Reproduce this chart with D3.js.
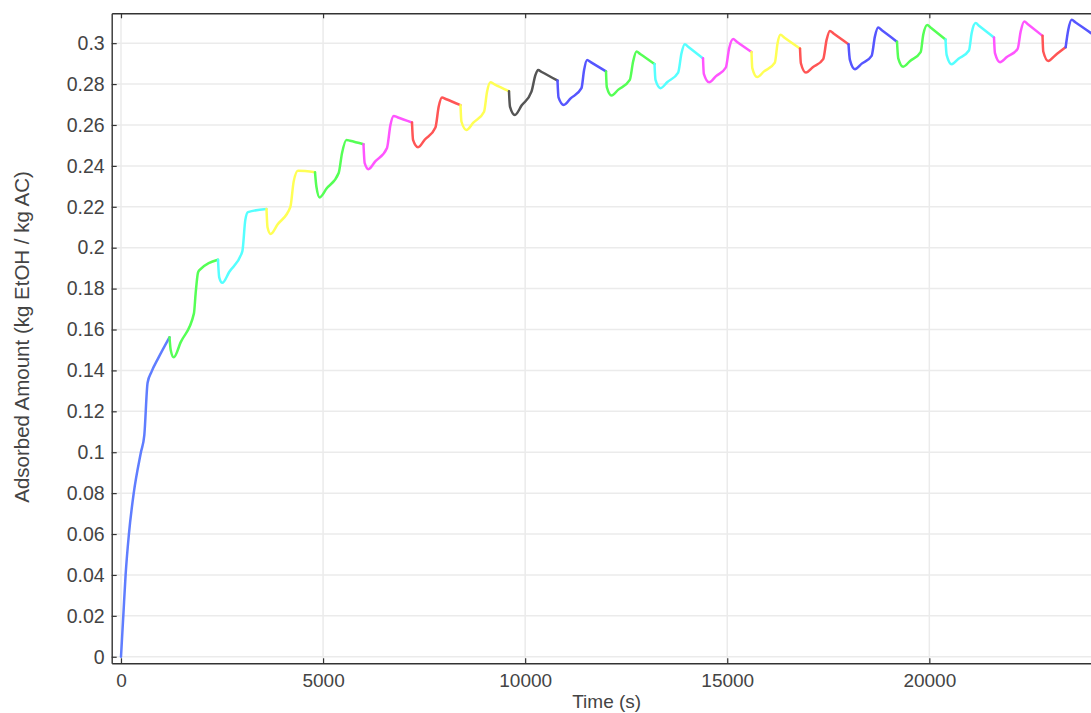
<!DOCTYPE html>
<html>
<head>
<meta charset="utf-8">
<script src="https://cdn.jsdelivr.net/npm/d3@7"></script>
<style>
  html, body { margin: 0; padding: 0; background: #ffffff; }
  svg { display: block; }
  text { font-family: "Liberation Sans", Arial, sans-serif; fill: #444444; }
</style>
</head>
<body>
<svg id="chart" width="1091" height="713"></svg>
<script>
// Adsorbed amount over repeated adsorption/desorption cycles, one coloured segment per cycle.
// Each segment: [time (s), adsorbed amount (kg EtOH / kg AC)]
const seg00 = [[0,0],[57,0.02],[114,0.04],[196,0.06],[315,0.08],[493,0.10],[577,0.1084],[658,0.1340],[757,0.1394],[922,0.1460],[1200,0.1562]];
const seg01 = [[1200,0.1562],[1230,0.1500],[1305,0.1464],[1475,0.1537],[1805,0.1679],[1847,0.1777],[1905,0.1878],[1940,0.1890],[2400,0.1941]];
const seg02 = [[2400,0.1941],[2430,0.1855],[2507,0.1828],[2677,0.1881],[3002,0.1982],[3076,0.2136],[3142,0.2174],[3600,0.2189]];
const seg03 = [[3600,0.2189],[3625,0.2100],[3703,0.2067],[3873,0.2113],[4190,0.2199],[4272,0.2323],[4379,0.2376],[4800,0.2369]];
const seg04 = [[4800,0.2369],[4834,0.2299],[4916,0.2246],[5086,0.2289],[5386,0.2365],[5468,0.2462],[5577,0.2527],[5667,0.2523],[6000,0.2506]];
const seg05 = [[6000,0.2506],[6030,0.2413],[6121,0.2384],[6291,0.2422],[6582,0.2488],[6666,0.2600],[6748,0.2644],[6838,0.2638],[7200,0.2612]];
const seg06 = [[7200,0.2612],[7226,0.2527],[7349,0.2491],[7519,0.2529],[7780,0.2588],[7861,0.2690],[7943,0.2734],[8033,0.2727],[8400,0.2697]];
const seg07 = [[8400,0.2697],[8423,0.2617],[8547,0.2576],[8717,0.2611],[8983,0.2665],[9057,0.2763],[9141,0.2809],[9231,0.2800],[9600,0.2765]];
const seg08 = [[9600,0.2765],[9624,0.2690],[9745,0.2649],[9915,0.2696],[10156,0.2763],[10255,0.2845],[10320,0.2869],[10410,0.2859],[10800,0.2817]];
const seg09 = [[10800,0.2817],[10825,0.2735],[10955,0.2698],[11125,0.2730],[11393,0.2780],[11458,0.2869],[11532,0.2918],[11622,0.2907],[12000,0.2862]];
const seg10 = [[12000,0.2862],[12020,0.2785],[12136,0.2744],[12306,0.2773],[12589,0.2820],[12671,0.2910],[12755,0.2959],[12845,0.2947],[13200,0.2898]];
const seg11 = [[13200,0.2898],[13225,0.2820],[13349,0.2780],[13519,0.2810],[13785,0.2856],[13868,0.2951],[13950,0.2995],[14040,0.2981],[14400,0.2926]];
const seg12 = [[14400,0.2926],[14421,0.2850],[14552,0.2809],[14722,0.2839],[14965,0.2881],[15047,0.2975],[15146,0.3020],[15236,0.3007],[15600,0.2957]];
const seg13 = [[15600,0.2957],[15620,0.2878],[15740,0.2834],[15910,0.2862],[16178,0.2905],[16245,0.3000],[16319,0.3041],[16409,0.3028],[16800,0.2974]];
const seg14 = [[16800,0.2974],[16822,0.2902],[16946,0.2856],[17116,0.2882],[17374,0.2922],[17458,0.3016],[17540,0.3060],[17630,0.3047],[18000,0.2995]];
const seg15 = [[18000,0.2995],[18035,0.2918],[18158,0.2873],[18328,0.2900],[18572,0.2938],[18653,0.3032],[18735,0.3076],[18825,0.3063],[19200,0.3007]];
const seg16 = [[19200,0.3007],[19231,0.2926],[19354,0.2885],[19524,0.2913],[19785,0.2956],[19849,0.3041],[19948,0.3089],[20038,0.3075],[20400,0.3018]];
const seg17 = [[20400,0.3018],[20428,0.2943],[20552,0.2897],[20722,0.2924],[20980,0.2964],[21047,0.3049],[21146,0.3098],[21236,0.3084],[21600,0.3028]];
const seg18 = [[21600,0.3028],[21624,0.2951],[21748,0.2907],[21918,0.2932],[22185,0.2972],[22260,0.3057],[22349,0.3106],[22439,0.3092],[22800,0.3036]];
const seg19 = [[22800,0.3036],[22819,0.2959],[22943,0.2913],[23113,0.2940],[23373,0.2980]];
const seg20 = [[23373,0.2980],[23438,0.3065],[23522,0.3114],[23612,0.3102],[24000,0.3049]];

const segments = [seg00, seg01, seg02, seg03, seg04, seg05, seg06, seg07, seg08, seg09, seg10,
                  seg11, seg12, seg13, seg14, seg15, seg16, seg17, seg18, seg19, seg20];
const segColors = ["#5f7dff", "#55ff55", "#55ffff", "#ffff55", "#55ff55", "#ff55ff", "#ff5555",
                   "#ffff55", "#555555", "#5656ff", "#55ff55", "#55ffff", "#ff55ff", "#ffff55",
                   "#ff5555", "#5656ff", "#55ff55", "#55ffff", "#ff55ff", "#ff5555", "#5656ff"];

const xTicks = [0, 5000, 10000, 15000, 20000];
const xTickLabels = ["0", "5000", "10000", "15000", "20000"];
const yTicks = [0, 0.02, 0.04, 0.06, 0.08, 0.1, 0.12, 0.14, 0.16, 0.18, 0.2, 0.22, 0.24, 0.26, 0.28, 0.3];
const yTickLabels = ["0", "0.02", "0.04", "0.06", "0.08", "0.1", "0.12", "0.14", "0.16", "0.18",
                     "0.2", "0.22", "0.24", "0.26", "0.28", "0.3"];

const xTitle = "Time (s)";
const yTitle = "Adsorbed Amount (kg EtOH / kg AC)";

// Layout
const plot = { left: 111.7, right: 1091, top: 13.3, bottom: 663.3 };
const x = d3.scaleLinear().domain([-230, 24000]).range([plot.left, plot.right]);
const y = d3.scaleLinear().domain([-0.0032, 0.3146]).range([plot.bottom, plot.top]);

const svg = d3.select("#chart");

svg.append("defs").append("clipPath").attr("id", "plotClip")
  .append("rect")
  .attr("x", plot.left).attr("y", plot.top)
  .attr("width", plot.right - plot.left).attr("height", plot.bottom - plot.top);

// Grid
const grid = svg.append("g").attr("stroke", "#ebebeb").attr("stroke-width", 1.5);
grid.selectAll("line.gx").data(xTicks).join("line").attr("class", "gx")
  .attr("x1", d => x(d)).attr("x2", d => x(d))
  .attr("y1", plot.top).attr("y2", plot.bottom);
grid.selectAll("line.gy").data(yTicks).join("line").attr("class", "gy")
  .attr("x1", plot.left).attr("x2", plot.right)
  .attr("y1", d => y(d)).attr("y2", d => y(d));

// Curve segments
const line = d3.line()
  .x(d => x(d[0]))
  .y(d => y(d[1]))
  .curve(d3.curveMonotoneX);

svg.append("g").attr("clip-path", "url(#plotClip)")
  .selectAll("path").data(segments).join("path")
  .attr("d", d => line(d))
  .attr("fill", "none")
  .attr("stroke", (d, i) => segColors[i])
  .attr("stroke-width", 2.5)
  .attr("stroke-linejoin", "round")
  .attr("stroke-linecap", "round");

// Axes (ticks point into the plot)
function styleAxis(g, size) {
  g.select(".domain").attr("stroke", "#333").attr("stroke-width", 1.4);
  g.selectAll(".tick line").attr("stroke", "#333").attr("stroke-width", 1.2);
  g.selectAll(".tick text").attr("fill", "#444444").attr("font-size", size)
    .attr("font-family", "'Liberation Sans', Arial, sans-serif");
}

const yAxis = d3.axisLeft(y).tickValues(yTicks)
  .tickFormat((d, i) => yTickLabels[i])
  .tickSize(-5).tickSizeOuter(0).tickPadding(7);
svg.append("g").attr("transform", `translate(${plot.left},0)`).call(yAxis).call(styleAxis, 19.5);

const xAxis = d3.axisBottom(x).tickValues(xTicks)
  .tickFormat((d, i) => xTickLabels[i])
  .tickSize(-5).tickSizeOuter(0).tickPadding(10);
svg.append("g").attr("transform", `translate(0,${plot.bottom})`).call(xAxis).call(styleAxis, 19);

const xTop = d3.axisTop(x).tickValues(xTicks).tickFormat("")
  .tickSize(-5).tickSizeOuter(0);
svg.append("g").attr("transform", `translate(0,${plot.top})`).call(xTop).call(styleAxis, 19);

// Titles
svg.append("text")
  .attr("x", 606.7).attr("y", 707.5)
  .attr("text-anchor", "middle").attr("font-size", 19)
  .text(xTitle);

svg.append("text")
  .attr("transform", "translate(29,337) rotate(-90)")
  .attr("text-anchor", "middle").attr("font-size", 20.5)
  .text(yTitle);
</script>
</body>
</html>
